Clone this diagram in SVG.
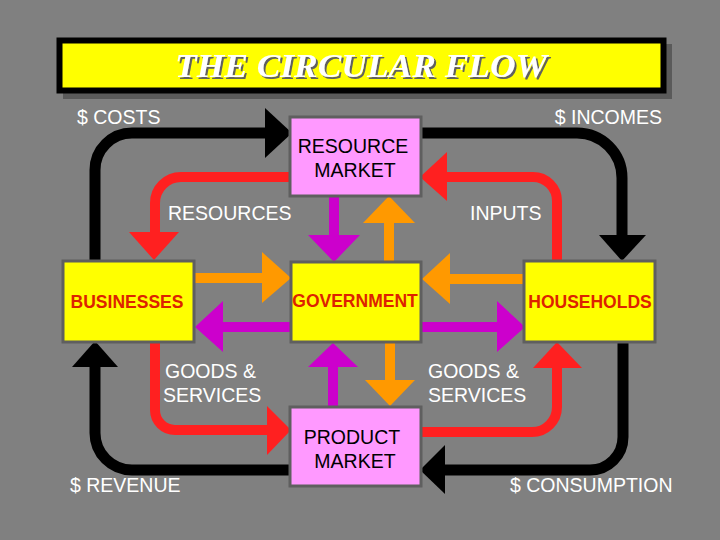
<svg xmlns="http://www.w3.org/2000/svg" width="720" height="540" viewBox="0 0 720 540">
<defs>
<filter id="tshadow" x="-5%" y="-20%" width="110%" height="140%">
<feFlood flood-color="#606060"/>
<feComposite in2="SourceAlpha" operator="in"/>
<feOffset dx="2" dy="2" result="sh"/>
<feMerge><feMergeNode in="sh"/><feMergeNode in="SourceGraphic"/></feMerge>
</filter>
</defs>
<style>
.lbl{font-family:"Liberation Sans",Arial,sans-serif;font-size:19.5px;fill:#ffffff}
.mkt{fill:#ff99ff;stroke:#5f5f5f;stroke-width:3}
.agent{fill:#ffff00;stroke:#5f5f5f;stroke-width:3}
.mtxt{font-family:"Liberation Sans",Arial,sans-serif;font-size:19.5px;fill:#000000;text-anchor:middle}
.atxt{font-family:"Liberation Sans",Arial,sans-serif;font-weight:bold;font-size:17.5px;fill:#dd2200;text-anchor:middle}
.ln{fill:none;stroke-linejoin:round}
.blk{stroke:#000000;stroke-width:11}
.red{stroke:#ff2020;stroke-width:10}
.org{stroke:#ff9900;stroke-width:10}
.mag{stroke:#cc00cc;stroke-width:10}
</style>
<rect x="0" y="0" width="720" height="540" fill="#808080"/>
<g id="title">
<rect x="63" y="44" width="609" height="55" fill="#5a5a5a"/>
<rect x="59.5" y="40.5" width="604" height="50" fill="#ffff00" stroke="#000000" stroke-width="6"/>
<text x="175" y="77" textLength="372" lengthAdjust="spacingAndGlyphs" font-family="'Liberation Serif','Times New Roman',serif" font-weight="bold" font-style="italic" font-size="34" fill="#ffffff" filter="url(#tshadow)">THE CIRCULAR FLOW</text>
</g>
<g id="connectors">
<path class="ln blk" d="M95 260 V170 A37 37 0 0 1 132 133 H266"/>
<polygon fill="#000000" points="265,108 292,133 265,158"/>
<path class="ln blk" d="M422 133 H577 A45 45 0 0 1 622 178 V236"/>
<polygon fill="#000000" points="599,235 646,235 622,261"/>
<path class="ln red" d="M290 177 H181 A26 26 0 0 0 155 203 V233"/>
<polygon fill="#ff2020" points="129,232 179,232 154,260"/>
<path class="ln red" d="M557 260 V201 A24 24 0 0 0 533 177 H446"/>
<polygon fill="#ff2020" points="447,152 420,177 447,201"/>
<path class="ln mag" d="M334 197 V236"/>
<polygon fill="#cc00cc" points="308,235 360,235 334,262"/>
<path class="ln org" d="M389 261 V222"/>
<polygon fill="#ff9900" points="363,223 415,223 389,196"/>
<path class="ln org" d="M195 278 H263"/>
<polygon fill="#ff9900" points="262,252 291,278 262,303"/>
<path class="ln mag" d="M290 327 H222"/>
<polygon fill="#cc00cc" points="223,301 195,327 223,352"/>
<path class="ln org" d="M523 279 H449"/>
<polygon fill="#ff9900" points="450,253 422,279 450,304"/>
<path class="ln mag" d="M422 327 H498"/>
<polygon fill="#cc00cc" points="497,301 525,327 497,352"/>
<path class="ln blk" d="M95 366 V433 A37 37 0 0 0 132 470 H289"/>
<polygon fill="#000000" points="72,367 118,367 95,341"/>
<path class="ln red" d="M155 343 V410 A20 20 0 0 0 175 430 H268"/>
<polygon fill="#ff2020" points="267,406 291,430 267,455"/>
<path class="ln mag" d="M333 406 V366"/>
<polygon fill="#cc00cc" points="308,367 358,367 333,343"/>
<path class="ln org" d="M390 343 V381"/>
<polygon fill="#ff9900" points="365,380 415,380 390,406"/>
<path class="ln red" d="M422 432 H532 A25 25 0 0 0 557 407 V367"/>
<polygon fill="#ff2020" points="533,368 582,368 557,342"/>
<path class="ln blk" d="M623 343 V437 A33 33 0 0 1 590 470 H444"/>
<polygon fill="#000000" points="445,445 420,470 445,494"/>
</g>
<g id="resource-market">
<rect class="mkt" x="290" y="117" width="131" height="79"/>
<text class="mtxt" x="353" y="153">RESOURCE</text>
<text class="mtxt" x="355" y="177">MARKET</text>
</g>
<g id="product-market">
<rect class="mkt" x="290" y="407" width="131" height="79"/>
<text class="mtxt" x="352" y="444">PRODUCT</text>
<text class="mtxt" x="355" y="468">MARKET</text>
</g>
<g id="businesses">
<rect class="agent" x="63" y="261" width="131" height="81"/>
<text class="atxt" x="127" y="308">BUSINESSES</text>
</g>
<g id="government">
<rect class="agent" x="291" y="262" width="130" height="80"/>
<text class="atxt" x="355" y="307" font-size="16">GOVERNMENT</text>
</g>
<g id="households">
<rect class="agent" x="524" y="261" width="131" height="81"/>
<text class="atxt" x="590" y="308">HOUSEHOLDS</text>
</g>
<g id="labels">
<text class="lbl" x="77" y="124">$ COSTS</text>
<text class="lbl" x="662" y="124" text-anchor="end">$ INCOMES</text>
<text class="lbl" x="168" y="220">RESOURCES</text>
<text class="lbl" x="470" y="220">INPUTS</text>
<text class="lbl" x="165" y="378">GOODS &amp;</text>
<text class="lbl" x="163" y="402">SERVICES</text>
<text class="lbl" x="428" y="378">GOODS &amp;</text>
<text class="lbl" x="428" y="402">SERVICES</text>
<text class="lbl" x="70" y="492">$ REVENUE</text>
<text class="lbl" x="510" y="492">$ CONSUMPTION</text>
</g>
</svg>
